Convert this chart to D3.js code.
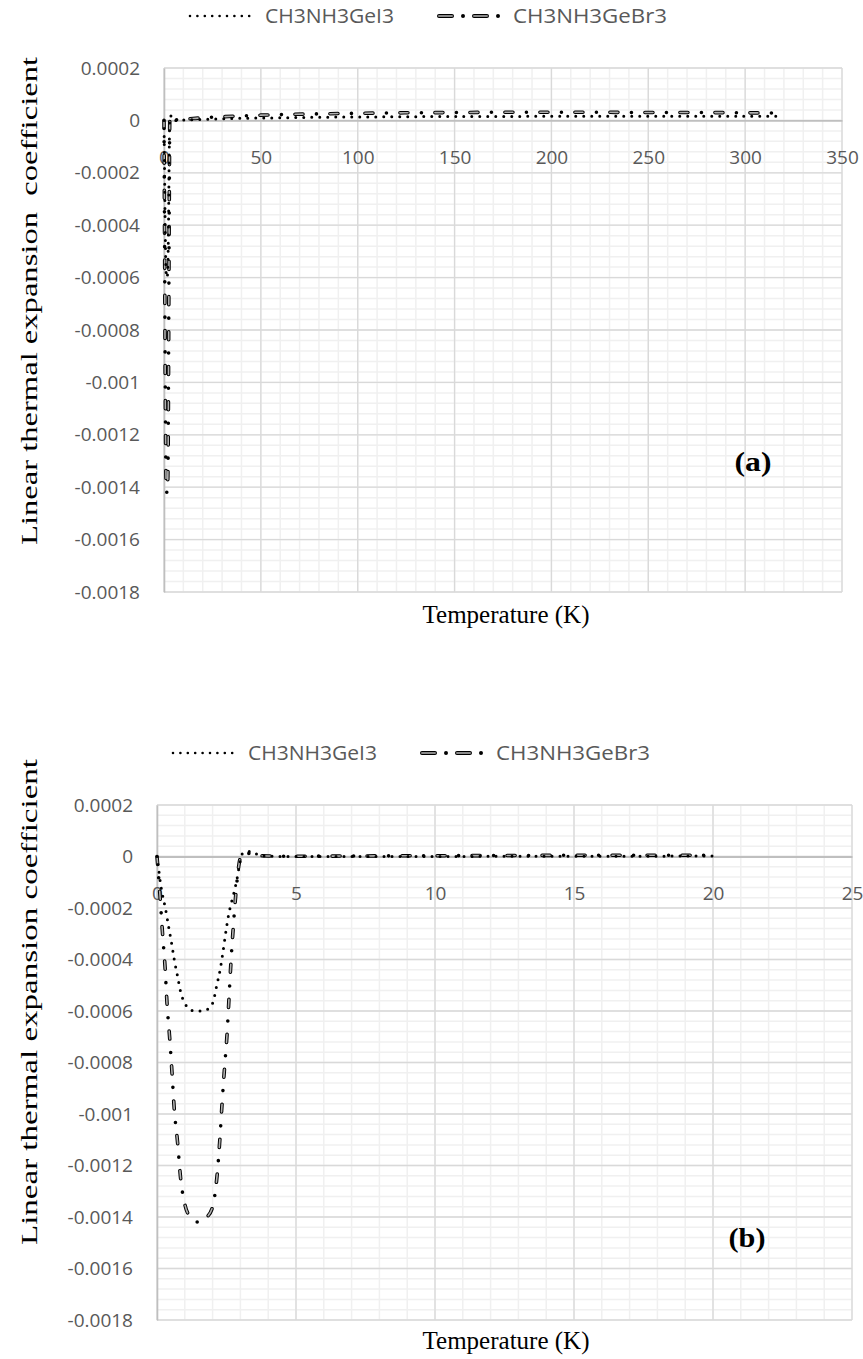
<!DOCTYPE html>
<html><head><meta charset="utf-8">
<script src="https://cdn.jsdelivr.net/npm/d3@7"></script>
<style>
html,body{margin:0;padding:0;background:#fff;}
svg{display:block;}
</style></head>
<body>
<svg id="chart" width="863" height="1359"></svg>
<script>
// ---------- DATA ----------
const seriesNames = ["CH3NH3GeI3", "CH3NH3GeBr3"];
const yTickValues = [0.0002, 0, -0.0002, -0.0004, -0.0006, -0.0008, -0.001, -0.0012, -0.0014, -0.0016, -0.0018];
const yTickLabels = ["0.0002", "0", "-0.0002", "-0.0004", "-0.0006", "-0.0008", "-0.001", "-0.0012", "-0.0014", "-0.0016", "-0.0018"];
const xTicksA = [0, 50, 100, 150, 200, 250, 300, 350];
const xTicksB = [0, 5, 10, 15, 20, 25];

// panel (a): full temperature range
const tempA = [0, 0.3, 0.6, 0.9, 1.2, 1.5, 1.8, 2.1, 2.4, 2.7, 3.0, 3.5, 4, 6, 10, 15, 20, 30, 40, 50, 60, 80, 100, 125, 150, 175, 200, 225, 250, 275, 300, 318];
const geI3A = [0, -0.0002, -0.0004, -0.00054, -0.00059, -0.0006, -0.00059, -0.00052, -0.00035, -0.00012, 0.00001, 0.000018, 0.000002, 0, 0.000001, 0.000003, 0.000004, 0.000006, 0.000008, 0.000009, 0.00001, 0.000012, 0.000013, 0.000014, 0.000015, 0.000015, 0.000016, 0.000016, 0.000016, 0.000016, 0.000016, 0.000016];
const geBr3A = [0, -0.00045, -0.00094, -0.00128, -0.0014, -0.00142, -0.0014, -0.0013, -0.00085, -0.00034, 0.000005, 0.000015, 0.000003, 0.000002, 0.000004, 0.000007, 0.00001, 0.000014, 0.000017, 0.00002, 0.000022, 0.000025, 0.000027, 0.000029, 0.00003, 0.000031, 0.000031, 0.000031, 0.00003, 0.00003, 0.000029, 0.000028];

// panel (b): low temperature detail
const tempI3B = [0, 0.05, 0.12, 0.2, 0.3, 0.43, 0.53, 0.62, 0.73, 0.86, 1.0, 1.15, 1.35, 1.6, 1.87, 2.03, 2.15, 2.27, 2.36, 2.48, 2.57, 2.65, 2.77, 2.89, 2.97, 3.1, 3.4, 3.7, 4.0, 5, 7, 10, 13, 16, 20];
const geI3B = [0, -0.00004, -0.0001, -0.00015, -0.0002, -0.00028, -0.00034, -0.0004, -0.00046, -0.00053, -0.00057, -0.00059, -0.0006, -0.0006, -0.00059, -0.00056, -0.0005, -0.00044, -0.00038, -0.00029, -0.00023, -0.00019, -0.00014, -0.00008, -0.00003, 0.000015, 0.00002, 0.000003, 0.000001, 0, 0, 0, 0.000001, 0.000001, 0.000002];
const tempBr3B = [0, 0.1, 0.2, 0.29, 0.36, 0.46, 0.54, 0.62, 0.74, 0.85, 1.0, 1.2, 1.5, 1.8, 2.0, 2.16, 2.26, 2.34, 2.43, 2.52, 2.59, 2.66, 2.74, 2.84, 2.95, 3.05, 3.3, 3.6, 4.0, 5, 7, 10, 13, 16, 20];
const geBr3B = [0, -0.00014, -0.0003, -0.00043, -0.00057, -0.00071, -0.00084, -0.00098, -0.00111, -0.00125, -0.00135, -0.0014, -0.00142, -0.0014, -0.00136, -0.00124, -0.0011, -0.00096, -0.00082, -0.00069, -0.00055, -0.00041, -0.00028, -0.00014, -0.00003, 0.00001, 0.000012, 0.000004, 0.000002, 0.000001, 0.000002, 0.000003, 0.000004, 0.000005, 0.000005];

// ---------- DRAW ----------
const svg = d3.select("#chart");
const tickFont = "'Open Sans', sans-serif";
const serifFont = "'Liberation Serif', 'Times New Roman', serif";

function panel(cfg) {
  const g = svg.append("g");
  const x = d3.scaleLinear().domain(cfg.xDomain).range([cfg.left, cfg.right]);
  const y = d3.scaleLinear().domain([-0.0018, 0.0002]).range([cfg.bottom, cfg.top]);

  // minor gridlines
  const xMinor = d3.range(cfg.xDomain[0], cfg.xDomain[1] + 1e-9, cfg.xMinorStep);
  const yMinor = d3.range(0, 51).map(i => -0.0018 + i * 0.00004);
  g.append("g").selectAll("line").data(yMinor).join("line")
    .attr("x1", cfg.left).attr("x2", cfg.right)
    .attr("y1", d => y(d)).attr("y2", d => y(d))
    .attr("stroke", "#f0f0f0").attr("stroke-width", 1.5);
  g.append("g").selectAll("line").data(xMinor).join("line")
    .attr("y1", cfg.top).attr("y2", cfg.bottom)
    .attr("x1", d => x(d)).attr("x2", d => x(d))
    .attr("stroke", "#f0f0f0").attr("stroke-width", 1.5);

  // major gridlines
  g.append("g").selectAll("line").data(yTickValues).join("line")
    .attr("x1", cfg.left).attr("x2", cfg.right)
    .attr("y1", d => y(d)).attr("y2", d => y(d))
    .attr("stroke", "#d9d9d9").attr("stroke-width", 1.3);
  g.append("g").selectAll("line").data(cfg.xTicks).join("line")
    .attr("y1", cfg.top).attr("y2", cfg.bottom)
    .attr("x1", d => x(d)).attr("x2", d => x(d))
    .attr("stroke", "#d9d9d9").attr("stroke-width", 1.3);

  // y axis (left)
  const yAxis = d3.axisLeft(y).tickValues(yTickValues)
    .tickFormat((d, i) => yTickLabels[i]).tickSize(0).tickPadding(24);
  const ya = g.append("g").attr("transform", `translate(${cfg.left},0)`).call(yAxis);
  ya.select(".domain").attr("stroke", "#bfbfbf").attr("stroke-width", 1.6);
  ya.selectAll("text").attr("font-family", tickFont).attr("font-size", 19).attr("fill", "#595959");

  // x axis at y = 0
  const xAxis = d3.axisBottom(x).tickValues(cfg.xTicks).tickFormat(d3.format("d")).tickSize(0).tickPadding(30);
  const xa = g.append("g").attr("transform", `translate(0,${y(0)})`).call(xAxis);
  xa.select(".domain").attr("stroke", "#bfbfbf").attr("stroke-width", 1.8);
  xa.selectAll("text").attr("font-family", tickFont).attr("font-size", 19).attr("fill", "#595959");

  // series
  const line = d3.line().x(d => x(d[0])).y(d => y(d[1])).curve(d3.curveMonotoneX);
  const dI3 = cfg.tI3.map((t, i) => [t, cfg.vI3[i]]);
  const dBr = cfg.tBr.map((t, i) => [t, cfg.vBr[i]]);

  // Br: dash-dot with outlined dashes
  g.append("path").attr("d", line(dBr)).attr("fill", "none")
    .attr("stroke", "#000").attr("stroke-width", 3.6).attr("stroke-linecap", "round")
    .attr("stroke-dasharray", "8 13.5 0 13.5");
  g.append("path").attr("d", line(dBr)).attr("fill", "none")
    .attr("stroke", "#b0b0b0").attr("stroke-width", 1.6).attr("stroke-linecap", "round")
    .attr("stroke-dasharray", "8 27");
  // I3: round dots
  g.append("path").attr("d", line(dI3)).attr("fill", "none")
    .attr("stroke", "#000").attr("stroke-width", 3).attr("stroke-linecap", "round")
    .attr("stroke-dasharray", "0 8");

  // legend
  const lg = g.append("g");
  const ly = cfg.legendY, lx = cfg.legendX;
  lg.append("line").attr("x1", lx + 1).attr("x2", lx + 67).attr("y1", ly).attr("y2", ly)
    .attr("stroke", "#000").attr("stroke-width", 2.6).attr("stroke-linecap", "round").attr("stroke-dasharray", "0 7.4");
  lg.append("text").attr("x", lx + 76).attr("y", ly + 7).text(seriesNames[0])
    .attr("font-family", tickFont).attr("font-size", 20).attr("fill", "#595959")
    .attr("textLength", 129).attr("lengthAdjust", "spacingAndGlyphs");
  const bx = lx + 248;
  lg.append("line").attr("x1", bx + 2).attr("x2", bx + 62).attr("y1", ly).attr("y2", ly)
    .attr("stroke", "#000").attr("stroke-width", 4).attr("stroke-linecap", "round").attr("stroke-dasharray", "13 11 0 11");
  lg.append("line").attr("x1", bx + 2).attr("x2", bx + 62).attr("y1", ly).attr("y2", ly)
    .attr("stroke", "#8a8a8a").attr("stroke-width", 2).attr("stroke-linecap", "round").attr("stroke-dasharray", "13 22");
  lg.append("text").attr("x", bx + 76).attr("y", ly + 7).text(seriesNames[1])
    .attr("font-family", tickFont).attr("font-size", 20).attr("fill", "#595959")
    .attr("textLength", 154).attr("lengthAdjust", "spacingAndGlyphs");

  // axis titles
  g.append("text").attr("x", cfg.xTitleX).attr("y", cfg.xTitleY).attr("text-anchor", "middle")
    .attr("font-family", serifFont).attr("font-size", 26)
    .attr("textLength", 167).attr("lengthAdjust", "spacingAndGlyphs")
    .text("Temperature (K)");
  g.append("text").attr("transform", `translate(${cfg.yTitleX},${cfg.yTitleY}) rotate(-90)`)
    .attr("text-anchor", "middle").attr("font-family", serifFont).attr("font-size", 24)
    .attr("textLength", cfg.yTitleLen).attr("lengthAdjust", "spacingAndGlyphs")
    .style("white-space", "pre")
    .text(cfg.yTitle);

  // panel label
  g.append("text").attr("x", cfg.labX).attr("y", cfg.labY).attr("text-anchor", "middle")
    .attr("font-family", serifFont).attr("font-size", 28).attr("font-weight", "bold")
    .attr("textLength", 37).attr("lengthAdjust", "spacingAndGlyphs")
    .text(cfg.label);
}

panel({
  left: 164, right: 842, top: 68, bottom: 592,
  xDomain: [0, 350], xTicks: xTicksA, xMinorStep: 10,
  tI3: tempA, vI3: geI3A, tBr: tempA, vBr: geBr3A,
  legendX: 189, legendY: 16,
  xTitleX: 506, xTitleY: 623,
  yTitleX: 37, yTitleY: 301, yTitleLen: 488,
  yTitle: "Linear thermal expansion  coefficient",
  label: "(a)", labX: 753, labY: 471
});
panel({
  left: 157, right: 852, top: 805, bottom: 1320,
  xDomain: [0, 25], xTicks: xTicksB, xMinorStep: 1,
  tI3: tempI3B, vI3: geI3B, tBr: tempBr3B, vBr: geBr3B,
  legendX: 172, legendY: 753,
  xTitleX: 506, xTitleY: 1349,
  yTitleX: 37, yTitleY: 1002, yTitleLen: 486,
  yTitle: "Linear thermal expansion coefficient",
  label: "(b)", labX: 747, labY: 1247
});
</script>
</body></html>
